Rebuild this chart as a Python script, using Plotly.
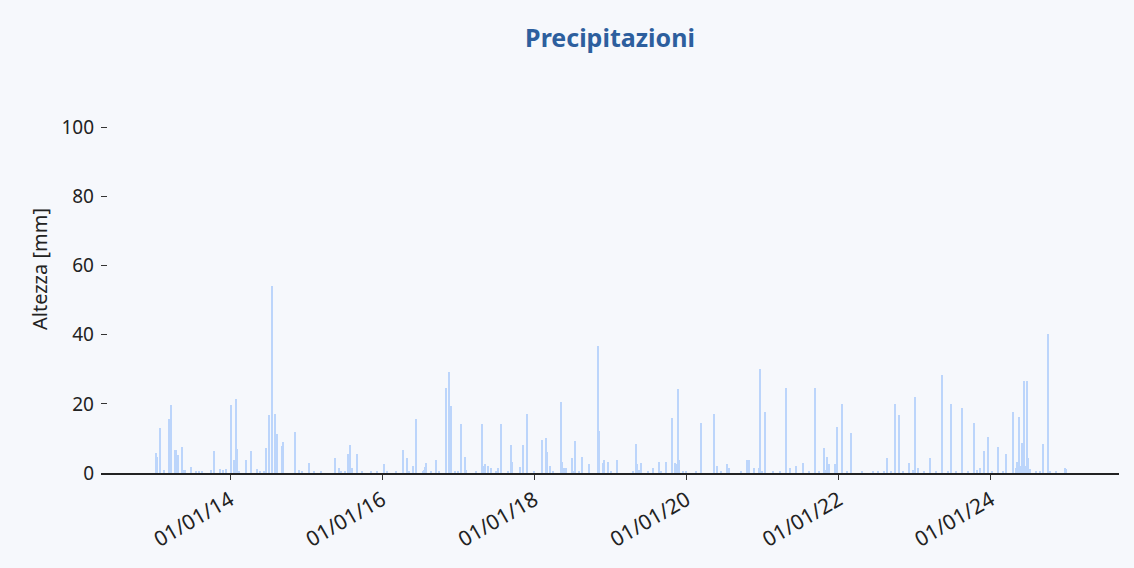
import plotly.graph_objects as go

dates = [
    "2013-01-09", "2013-01-14", "2013-01-31", "2013-02-18", "2013-03-14", "2013-03-22",
    "2013-04-13", "2013-04-18", "2013-04-25", "2013-05-15", "2013-05-23", "2013-05-30",
    "2013-06-26", "2013-07-22", "2013-08-05", "2013-08-19", "2013-09-30", "2013-10-15",
    "2013-11-13", "2013-11-28", "2013-12-13", "2014-01-06", "2014-01-20", "2014-01-28",
    "2014-02-02", "2014-02-13", "2014-03-17", "2014-04-13", "2014-05-11", "2014-05-25",
    "2014-06-13", "2014-06-22", "2014-07-06", "2014-07-20", "2014-08-04", "2014-08-09",
    "2014-08-16", "2014-09-06", "2014-09-13", "2014-11-08", "2014-11-29", "2014-12-13",
    "2015-01-16", "2015-02-09", "2015-03-14", "2015-05-21", "2015-06-09", "2015-06-17",
    "2015-07-08", "2015-07-22", "2015-07-30", "2015-08-12", "2015-09-02", "2015-09-29",
    "2015-11-10", "2015-12-08", "2016-01-11", "2016-01-25", "2016-03-07", "2016-04-10",
    "2016-05-02", "2016-05-10", "2016-05-29", "2016-06-11", "2016-07-16", "2016-07-21",
    "2016-07-26", "2016-07-31", "2016-08-24", "2016-09-17", "2016-10-01", "2016-11-04",
    "2016-11-18", "2016-11-25", "2016-12-17", "2017-01-01", "2017-01-14", "2017-02-03",
    "2017-02-09", "2017-03-27", "2017-04-27", "2017-05-05", "2017-05-10", "2017-05-25",
    "2017-06-08", "2017-07-01", "2017-07-13", "2017-07-26", "2017-08-30", "2017-09-12",
    "2017-09-18", "2017-10-24", "2017-11-07", "2017-11-28", "2018-01-01", "2018-02-07",
    "2018-02-26", "2018-03-04", "2018-03-19", "2018-03-30", "2018-05-07", "2018-05-14",
    "2018-05-23", "2018-06-02", "2018-07-01", "2018-07-09", "2018-07-15", "2018-08-02",
    "2018-08-19", "2018-09-22", "2018-11-04", "2018-11-09", "2018-11-27", "2018-12-03",
    "2018-12-22", "2019-01-04", "2019-02-02", "2019-04-18", "2019-05-02", "2019-05-09",
    "2019-05-20", "2019-05-30", "2019-06-29", "2019-07-25", "2019-08-23", "2019-09-01",
    "2019-09-26", "2019-10-22", "2019-11-06", "2019-11-13", "2019-11-20", "2019-11-27",
    "2019-12-18", "2020-01-01", "2020-02-17", "2020-03-10", "2020-05-11", "2020-05-26",
    "2020-06-16", "2020-07-13", "2020-07-26", "2020-09-20", "2020-10-17", "2020-10-26",
    "2020-11-23", "2020-12-13", "2020-12-20", "2020-12-31", "2021-01-15", "2021-02-19",
    "2021-03-26", "2021-04-22", "2021-05-15", "2021-06-11", "2021-07-16", "2021-08-14",
    "2021-09-09", "2021-10-01", "2021-10-21", "2021-10-27", "2021-11-04", "2021-11-18",
    "2021-12-16", "2021-12-22", "2022-01-18", "2022-02-08", "2022-03-01", "2022-04-21",
    "2022-06-13", "2022-07-07", "2022-08-05", "2022-08-20", "2022-09-11", "2022-10-01",
    "2022-10-16", "2022-11-04", "2022-12-04", "2022-12-23", "2023-01-01", "2023-01-15",
    "2023-02-14", "2023-03-17", "2023-04-15", "2023-05-10", "2023-06-10", "2023-06-23",
    "2023-07-20", "2023-08-18", "2023-09-12", "2023-10-11", "2023-10-29", "2023-11-09",
    "2023-11-30", "2023-12-21", "2024-01-06", "2024-02-07", "2024-02-27", "2024-03-13",
    "2024-04-17", "2024-04-30", "2024-05-06", "2024-05-14", "2024-05-21", "2024-05-29",
    "2024-06-04", "2024-06-11", "2024-06-17", "2024-06-25", "2024-06-30", "2024-07-06",
    "2024-08-04", "2024-08-23", "2024-09-08", "2024-10-01", "2024-10-10", "2024-11-11",
    "2024-12-24", "2024-12-30",
]

precip_mm = [
    5.9, 4.5, 12.9, 0.8, 15.5, 19.7,
    6.6, 6.6, 5.1, 7.5, 1.0, 0.8,
    1.6, 0.5, 0.6, 0.5, 1.0, 6.3,
    1.3, 0.8, 1.2, 19.7, 3.8, 21.3,
    7.0, 0.5, 3.8, 6.3, 1.2, 0.5,
    0.5, 7.1, 16.8, 54.2, 17.1, 1.2,
    11.3, 7.8, 9.1, 11.8, 1.0, 0.6,
    3.0, 0.5, 0.5, 4.2, 1.4, 0.5,
    0.5, 5.5, 8.0, 1.4, 5.5, 0.7,
    0.4, 0.5, 2.5, 0.5, 0.7, 6.6,
    4.2, 0.5, 2.1, 15.5, 0.5, 0.8,
    1.7, 3.0, 0.5, 3.8, 0.7, 24.7,
    29.3, 19.4, 0.5, 0.5, 14.2, 4.6,
    1.0, 0.5, 14.2, 2.0, 2.5, 2.1,
    1.4, 0.7, 1.4, 14.2, 0.5, 8.0,
    3.3, 1.8, 8.0, 17.1, 0.7, 9.6,
    10.0, 6.2, 2.1, 0.5, 20.5, 3.3,
    1.4, 1.4, 4.2, 0.7, 9.2, 0.5,
    4.6, 2.5, 36.8, 12.1, 3.0, 3.8,
    3.3, 0.5, 3.8, 0.5, 8.4, 2.5,
    1.0, 3.0, 0.5, 1.4, 3.3, 0.5,
    3.3, 15.9, 3.0, 2.5, 24.2, 3.8,
    0.5, 0.5, 0.7, 14.6, 17.1, 2.1,
    0.5, 2.5, 1.5, 0.5, 3.8, 3.8,
    1.5, 1.5, 30.0, 0.5, 17.5, 0.5,
    0.5, 24.6, 1.5, 1.9, 2.9, 0.5,
    24.6, 0.5, 7.1, 1.0, 4.5, 2.5,
    2.5, 13.4, 20.0, 0.5, 11.7, 0.5,
    0.7, 0.5, 0.5, 4.2, 0.7, 20.0,
    16.8, 0.5, 2.9, 0.8, 22.1, 1.5,
    0.5, 4.2, 0.5, 28.4, 0.5, 20.0,
    0.5, 18.8, 0.5, 14.6, 1.0, 1.5,
    6.3, 10.5, 0.5, 7.5, 0.5, 5.5,
    17.5, 1.5, 3.2, 16.3, 2.0, 8.8,
    2.0, 26.7, 2.0, 26.7, 4.2, 1.2,
    0.5, 0.5, 8.4, 40.1, 0.5, 0.5,
    1.5, 1.2,
]

y_ticks = [0, 20, 40, 60, 80, 100]
title_text = "Precipitazioni"
y_label = "Altezza [mm]"

BG = "#f6f8fc"
FONT = "Noto Sans"
DAY_MS = 86400000

fig = go.Figure(
    go.Bar(
        x=dates,
        y=precip_mm,
        width=7 * DAY_MS,
        marker=dict(color="#bcd5fb", line=dict(width=0)),
        hoverinfo="x+y",
    )
)

fig.update_layout(
    width=1134,
    height=568,
    paper_bgcolor=BG,
    plot_bgcolor=BG,
    margin=dict(l=101, r=15, t=65, b=95),
    showlegend=False,
    bargap=0,
    font=dict(family=FONT, color="#222222", size=19),
    title=dict(
        text=f"<b>{title_text}</b>",
        x=0.5,
        xref="paper",
        xanchor="center",
        y=1 - 38 / 568,
        yref="container",
        yanchor="middle",
        font=dict(family=FONT, size=25, color="#2d5f9e"),
    ),
)

fig.update_xaxes(
    type="date",
    range=["2012-04-21", "2025-09-07"],
    tick0="2014-01-01",
    dtick="M24",
    tickformat="%d/%m/%y",
    tickangle=-30,
    ticks="outside",
    ticklen=5,
    tickcolor="#333333",
    showline=True,
    linecolor="#222222",
    linewidth=1.5,
    showgrid=False,
    zeroline=False,
    tickfont=dict(family=FONT, size=21, color="#222222"),
)

fig.update_yaxes(
    range=[0, 118],
    tickvals=y_ticks,
    ticks="inside",
    ticklen=6,
    tickcolor="#333333",
    ticklabelstandoff=6,
    showline=False,
    showgrid=False,
    zeroline=False,
    tickfont=dict(family=FONT, size=19, color="#222222"),
    title=dict(text=y_label, standoff=8, font=dict(family=FONT, size=20, color="#222222")),
)

fig.write_html(
    "out.html",
    config={"displayModeBar": False},
    post_script="document.body.style.margin='0';document.body.style.background='" + BG + "';",
)
